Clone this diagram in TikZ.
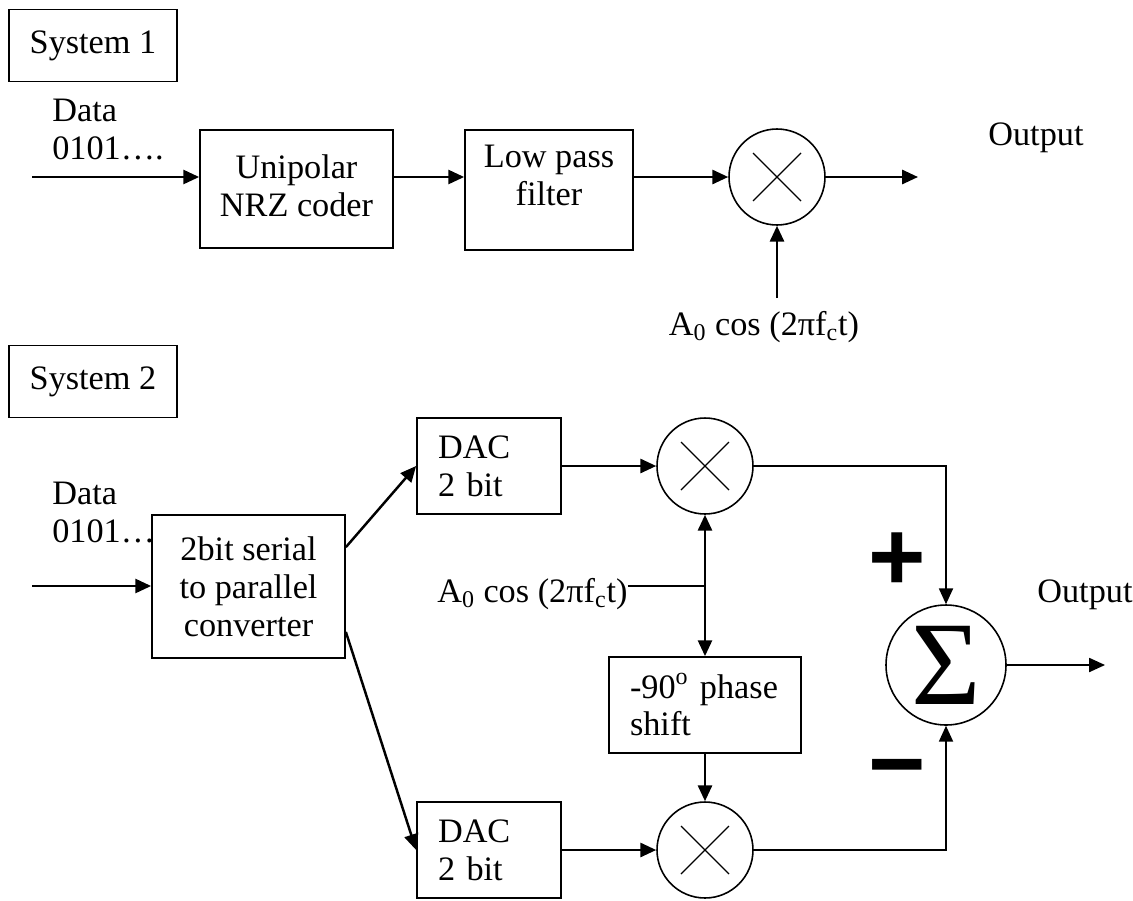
\documentclass[tikz,border=0pt]{standalone}
\usepackage{fontspec}
\setmainfont{Liberation Serif}
\newfontfamily\signfont{Liberation Sans}
\usetikzlibrary{arrows.meta, positioning, shapes}

\begin{document}
\begin{tikzpicture}[
    x=0.02cm, y=-0.02cm,
    txt/.style = {font=\fontsize{19.5}{21.5}\selectfont, inner sep=0pt},
    block/.style = {draw=black, rectangle, line width=1pt, fill=white, txt},
    sysbox/.style = {block, minimum width=3.36cm, minimum height=1.44cm},
    dacbox/.style = {block, minimum width=2.88cm, minimum height=1.92cm,
        text width=2.04cm, inner xsep=0.42cm, align=left},
    mixer/.style = {draw=black, circle, line width=0.9pt, minimum size=1.92cm,
        path picture={\draw[line width=0.7pt] (path picture bounding box.center)
            +(-24,-24) -- +(24,24) +(-24,24) -- +(24,-24);}},
    tip/.style = {-{Triangle[length=9pt, width=8pt]}},
    sigl/.style = {tip, line width=1.4pt},
    thin/.style = {line width=0.9pt},
    sign/.style = {font=\signfont\bfseries\fontsize{56}{56}\selectfont, inner sep=0pt}
]
\useasboundingbox (0,0) rectangle (1133,900);

% System 1
\node(Sys1)[sysbox] at (93,45.5) {System 1};
\node(Data1)[txt, anchor=north west, align=left] at (52,99) {Data\\0101….};
\coordinate(In1) at (32,177);

\node(Nrz)[block, minimum width=3.86cm, minimum height=2.36cm,
    label={[txt, align=center, anchor=north, yshift=-0.5cm]north:Unipolar\\NRZ coder}]
    at (296.5,189) {};
\node(Lpf)[block, minimum width=3.36cm, minimum height=2.4cm,
    label={[txt, align=center, anchor=north, yshift=-0.32cm]north:Low pass\\filter}]
    at (549,190) {};
\node(Mix1)[mixer] at (777,177) {};
\coordinate(Out1) at (918,177);
\node(OutTxt1)[txt, anchor=base west] at (988,145) {Output};
\coordinate(Car1) at (777,298);
\node(CarTxt1)[txt, anchor=base] at (764,335) {A\textsubscript{0} cos (2πf\textsubscript{c}t)};

\draw[sigl] (In1) -- (In1 -| Nrz.west);
\draw[sigl] (Nrz.east |- In1) -- (Lpf.west |- In1);
\draw[sigl] (Lpf.east |- Mix1) -- (Mix1);
\draw[sigl] (Mix1) -- (Out1);
\draw[sigl] (Car1) -- (Mix1);

% System 2
\node(Sys2)[sysbox] at (93,381.5) {System 2};
\node(Data2)[txt, anchor=north west, align=left] at (52,482) {Data\\0101….};
\coordinate(In2) at (32,586);

\node(Conv)[block, minimum width=3.86cm, minimum height=2.86cm, align=center]
    at (248.5,586.5) {2bit serial\\to parallel\\converter};
\node(Dac1)[dacbox] at (489,466) {DAC\\2 bit};
\node(Dac2)[dacbox] at (489,850) {DAC\\2 bit};
\node(Mix2)[mixer] at (705,466) {};
\node(Mix3)[mixer] at (705,850) {};
\node(Phase)[block, minimum width=3.84cm, minimum height=1.92cm,
    text width=3.0cm, inner xsep=0.42cm, align=left] at (705,705)
    {-90\textsuperscript{o} phase\\shift};
\coordinate(Jn) at (705,586);
\node(CarTxt2)[txt, anchor=base west] at (437,602) {A\textsubscript{0} cos (2πf\textsubscript{c}t)};

\node(Sum)[draw=black, circle, line width=0.9pt, minimum size=2.4cm, inner sep=0pt,
    font=\fontsize{68}{68}\selectfont] at (946,665) {Σ};
\coordinate(Out2) at (1105,665);
\node(OutTxt2)[txt, anchor=base west] at (1037,602) {Output};
\node(Plus)[sign] at (897,562) {+};
\node(Minus)[sign] at (897,778) {−};

\draw[sigl] (In2) -- (In2 -| Conv.west);
\draw[sigl] (Conv.22) -- (Dac1.west);
\draw[sigl] (Conv.-25) -- (Dac2.west);
\draw[sigl] (Dac1) -- (Mix2);
\draw[sigl] (Dac2) -- (Mix3);
\draw[sigl, {Triangle[length=9pt, width=8pt]}-{Triangle[length=9pt, width=8pt]}]
    (Mix2) -- (Phase);
\draw[thin] (CarTxt2.east |- Jn) -- (Jn);
\draw[sigl] (Phase) -- (Mix3);
\draw[thin, tip] (Mix2) -| (Sum);
\draw[thin, tip] (Mix3) -| (Sum);
\draw[thin, tip] (Sum) -- (Out2);

\end{tikzpicture}
\end{document}
